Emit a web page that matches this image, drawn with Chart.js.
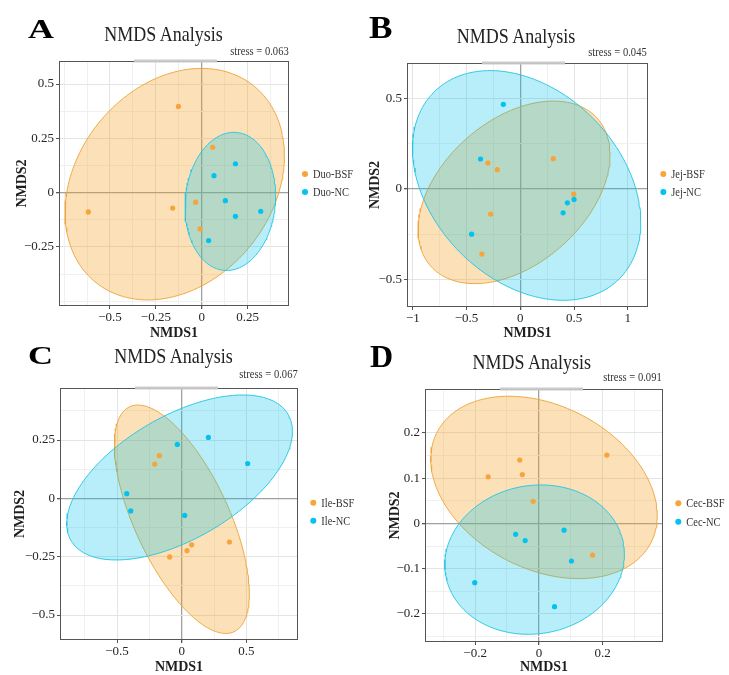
<!DOCTYPE html>
<html><head><meta charset="utf-8">
<script src="https://cdn.jsdelivr.net/npm/chart.js@4/dist/chart.umd.min.js"></script>
<style>
html,body{margin:0;padding:0;background:#fff;overflow:hidden;}
#page{position:relative;width:729px;height:675px;overflow:hidden;background:#fff;}
canvas{position:absolute;}
svg{position:absolute;left:0;top:0;}
</style></head><body><div id="page"></div>
<script>
// ---------------- DATA ----------------
// Panel A – duodenum
const duoBSF = [[-0.618,-0.089],[-0.127,0.397],[-0.158,-0.071],[-0.033,-0.044],[0.060,0.209],[-0.009,-0.167]];
const duoNC  = [[0.184,0.133],[0.067,0.078],[0.129,-0.037],[0.184,-0.109],[0.322,-0.086],[0.038,-0.221]];
// ellipse: [centerX, centerY, halfWidthX, halfHeightY, correlation]
const duoBSFEllipse = [-0.147,0.039,0.598,0.533,0.245];
const duoNCEllipse  = [0.156,-0.0405,0.247,0.318,0.08];
const duoXTicks = [-0.5,-0.25,0,0.25];
const duoYTicks = [-0.25,0,0.25,0.5];
// Panel B – jejunum
const jejBSF = [[-0.301,0.144],[-0.214,0.107],[0.307,0.168],[0.497,-0.028],[-0.276,-0.138],[-0.357,-0.359]];
const jejNC  = [[-0.158,0.468],[-0.37,0.166],[0.438,-0.076],[0.5,-0.057],[0.398,-0.131],[-0.453,-0.249]];
const jejBSFEllipse = [-0.058,-0.018,0.893,0.504,0.41];
const jejNCEllipse  = [0.059,0.02,1.062,0.634,-0.32];
const jejXTicks = [-1,-0.5,0,0.5,1];
const jejYTicks = [-0.5,0,0.5];
// Panel C – ileum
const ileBSF = [[-0.209,0.147],[-0.173,0.183],[-0.093,-0.251],[0.041,-0.224],[0.077,-0.199],[0.369,-0.187]];
const ileNC  = [[-0.034,0.231],[0.206,0.261],[0.510,0.149],[-0.425,0.02],[-0.394,-0.054],[0.023,-0.073]];
const ileBSFEllipse = [0.001,-0.0895,0.522,0.4895,-0.65];
const ileNCEllipse  = [-0.0165,0.0895,0.8725,0.3535,0.56];
const ileXTicks = [-0.5,0,0.5];
const ileYTicks = [-0.5,-0.25,0,0.25];
// Panel D – cecum
const cecBSF = [[-0.159,0.103],[-0.060,0.140],[-0.052,0.108],[-0.018,0.049],[0.213,0.151],[0.168,-0.070]];
const cecNC  = [[-0.073,-0.024],[-0.043,-0.038],[0.079,-0.015],[0.102,-0.083],[-0.201,-0.131],[0.049,-0.184]];
const cecBSFEllipse = [0.016,0.0795,0.355,0.2015,-0.31];
const cecNCEllipse  = [-0.0135,-0.08,0.2815,0.165,0.07];
const cecXTicks = [-0.2,0,0.2];
const cecYTicks = [-0.2,-0.1,0,0.1,0.2];

const groupNames = [['Duo-BSF','Duo-NC'],['Jej-BSF','Jej-NC'],['Ile-BSF','Ile-NC'],['Cec-BSF','Cec-NC']];
const stressValues = ['0.063','0.045','0.067','0.091'];
const panelLetters = ['A','B','C','D'];

// ---------------- LAYOUT ----------------
const FONT = '"Liberation Serif","Times New Roman",serif';
const panels = [
  {letter:{x:28,base:38.3,sx:1.12,sy:0.86}, title:{x:163.5,base:40.7}, stress:{x:288.7,base:54.7},
   rect:[59,61,289,306], xr:[-0.778,0.476], yr:[-0.522,0.606], xs:0.125, ys:0.125,
   xt:duoXTicks, yt:duoYTicks, bsf:duoBSF, nc:duoNC, eb:duoBSFEllipse, en:duoNCEllipse,
   leg:{x:305,y:[174,192]}, ytp:14.5, xtp:2},
  {letter:{x:369,base:38.3,sx:1.1,sy:1}, title:{x:516,base:42.7}, stress:{x:646.7,base:55.7},
   rect:[407,63,648,307], xr:[-1.054,1.188], yr:[-0.651,0.696], xs:0.25, ys:0.25,
   xt:jejXTicks, yt:jejYTicks, bsf:jejBSF, nc:jejNC, eb:jejBSFEllipse, en:jejNCEllipse,
   leg:{x:663.3,y:[174,192]}, ytp:19, xtp:3},
  {letter:{x:28,base:364,sx:1.08,sy:0.78}, title:{x:173.5,base:363.3}, stress:{x:297.7,base:378.3},
   rect:[60,388,298,640], xr:[-0.941,0.899], yr:[-0.607,0.473], xs:0.25, ys:0.125,
   xt:ileXTicks, yt:ileYTicks, bsf:ileBSF, nc:ileNC, eb:ileBSFEllipse, en:ileNCEllipse,
   leg:{x:313.3,y:[502.7,520.7]}, ytp:11.7, xtp:2},
  {letter:{x:370,base:367.3,sx:1,sy:1}, title:{x:531.7,base:369.3}, stress:{x:661.7,base:380.7},
   rect:[425,389,663,642], xr:[-0.357,0.389], yr:[-0.262,0.297], xs:0.1, ys:0.05,
   xt:cecXTicks, yt:cecYTicks, bsf:cecBSF, nc:cecNC, eb:cecBSFEllipse, en:cecNCEllipse,
   leg:{x:678.3,y:[503.3,521.7]}, ytp:21, xtp:4}
];

const ORANGE = '#F7A43A', CYAN = '#00C3F0';
const page = document.getElementById('page');

function ellipsePts(e){
  const [cx,cy,hx,hy,r] = e; const s = Math.sqrt(1-r*r); const pts = [];
  for(let i=0;i<=180;i++){ const t = 2*Math.PI*i/180;
    pts.push({x:cx+hx*Math.cos(t), y:cy+hy*(r*Math.cos(t)+s*Math.sin(t))}); }
  return pts;
}
function isMajor(v, list){ return list.some(m => Math.abs(m-v) < 1e-6); }
function fmt(v){ const s = String(Math.round(v*1000)/1000); return s.replace('-', '\u2212'); }

const frame = {id:'frame', afterDraw(chart){
  const {ctx, chartArea:a} = chart; ctx.save();
  ctx.strokeStyle = '#555'; ctx.lineWidth = 1;
  ctx.strokeRect(a.left+0.5, a.top+0.5, a.right-a.left-1, a.bottom-a.top-1);
  ctx.strokeStyle = 'rgba(200,200,200,0.95)'; ctx.lineWidth = 3;
  ctx.beginPath(); ctx.moveTo(a.left+75, a.top); ctx.lineTo(a.left+158, a.top); ctx.stroke();
  ctx.restore(); }};

panels.forEach((p, i) => {
  const [l,t,r,b] = p.rect;
  const W = 58, PT = 10, PR = 6, H = 36;
  const cv = document.createElement('canvas');
  cv.width = (r-l)+W+PR; cv.height = (b-t)+PT+H;
  cv.style.left = (l-W)+'px'; cv.style.top = (t-PT)+'px';
  page.appendChild(cv);
  const gridColor = list => c => {
    const v = c.tick ? c.tick.value : NaN;
    if (Math.abs(v) < 1e-9) return '#a0a0a0';
    return isMajor(v, list) ? '#e4e4e4' : '#f0f0f0';
  };
  const tickColor = list => c => (c.tick && isMajor(c.tick.value, list)) ? '#555' : 'rgba(0,0,0,0)';
  const ds = (data, fillCol, lineCol, order, label) => ({label, data, showLine:true, fill:'shape',
    backgroundColor:fillCol, borderColor:lineCol, borderWidth:1, pointRadius:0, tension:0, order});
  new Chart(cv, {
    type:'scatter',
    data:{datasets:[
      ds(ellipsePts(p.eb), 'rgba(245,160,40,0.33)', 'rgba(236,168,60,0.95)', 4, groupNames[i][0]+' ellipse'),
      ds(ellipsePts(p.en), 'rgba(0,195,235,0.28)', 'rgba(40,198,228,0.95)', 3, groupNames[i][1]+' ellipse'),
      {label:groupNames[i][0], data:p.bsf.map(([x,y])=>({x,y})), pointRadius:2.6, pointBackgroundColor:ORANGE, backgroundColor:ORANGE, pointBorderWidth:0, order:2},
      {label:groupNames[i][1], data:p.nc.map(([x,y])=>({x,y})), pointRadius:2.6, pointBackgroundColor:CYAN, backgroundColor:CYAN, pointBorderWidth:0, order:1}
    ]},
    options:{
      responsive:false, animation:false, events:[],
      layout:{padding:{left:0, top:PT, right:PR, bottom:0}},
      plugins:{legend:{display:false}, tooltip:{enabled:false}, title:{display:false}},
      scales:{
        x:{type:'linear', min:p.xr[0], max:p.xr[1],
          afterFit:s=>{ s.height = H; },
          border:{display:false},
          grid:{color:gridColor(p.xt), lineWidth:c=>(c.tick && Math.abs(c.tick.value)<1e-9)?1.3:1, drawTicks:true, tickLength:3, tickColor:tickColor(p.xt)},
          ticks:{stepSize:p.xs, includeBounds:false, autoSkip:false, maxRotation:0, padding:1, color:'#262626',
            font:{family:FONT, size:13}, callback:v => isMajor(v, p.xt) ? fmt(v) : ''},
          title:{display:true, text:'NMDS1', color:'#1e1e1e', font:{family:FONT, size:14, weight:'bold', lineHeight:1}, padding:{top:0, bottom:p.xtp}}
        },
        y:{type:'linear', min:p.yr[0], max:p.yr[1],
          afterFit:s=>{ s.width = W; },
          border:{display:false},
          grid:{color:gridColor(p.yt), lineWidth:c=>(c.tick && Math.abs(c.tick.value)<1e-9)?1.3:1, drawTicks:true, tickLength:3, tickColor:tickColor(p.yt)},
          ticks:{stepSize:p.ys, includeBounds:false, autoSkip:false, padding:2, color:'#262626',
            font:{family:FONT, size:13}, callback:v => isMajor(v, p.yt) ? fmt(v) : ''},
          title:{display:true, text:'NMDS2', color:'#1e1e1e', font:{family:FONT, size:14, weight:'bold', lineHeight:1}, padding:{top:p.ytp, bottom:0}}
        }
      }
    },
    plugins:[frame]
  });
});

// ---------------- TEXT OVERLAY (SVG) ----------------
const NS = 'http://www.w3.org/2000/svg';
const svg = document.createElementNS(NS, 'svg');
svg.setAttribute('width', 729); svg.setAttribute('height', 675);
page.appendChild(svg);
function txt(s, x, base, size, opts={}){
  const el = document.createElementNS(NS, 'text');
  el.textContent = s;
  el.setAttribute('x', 0); el.setAttribute('y', 0);
  el.setAttribute('transform', `translate(${x},${base}) scale(${opts.sx||1},${opts.sy||1})`);
  el.setAttribute('font-family', FONT); el.setAttribute('font-size', size);
  el.setAttribute('font-weight', opts.weight||'normal');
  el.setAttribute('fill', opts.color||'#333');
  el.setAttribute('text-anchor', opts.anchor||'start');
  svg.appendChild(el);
}
function dot(x, y, r, col){
  const c = document.createElementNS(NS, 'circle');
  c.setAttribute('cx', x); c.setAttribute('cy', y); c.setAttribute('r', r); c.setAttribute('fill', col);
  svg.appendChild(c);
}
panels.forEach((p, i) => {
  txt(panelLetters[i], p.letter.x, p.letter.base, 32, {weight:'bold', color:'#000', sx:p.letter.sx, sy:p.letter.sy});
  txt('NMDS Analysis', p.title.x, p.title.base, 20, {anchor:'middle', color:'#222', sx:0.9});
  txt('stress = ' + stressValues[i], p.stress.x, p.stress.base, 12, {anchor:'end', color:'#333', sx:0.88});
  [ORANGE, CYAN].forEach((col, k) => {
    dot(p.leg.x, p.leg.y[k], 3, col);
    txt(groupNames[i][k], p.leg.x + 8, p.leg.y[k] + 4, 12, {color:'#333', sx:0.87});
  });
});
</script>
</body></html>
